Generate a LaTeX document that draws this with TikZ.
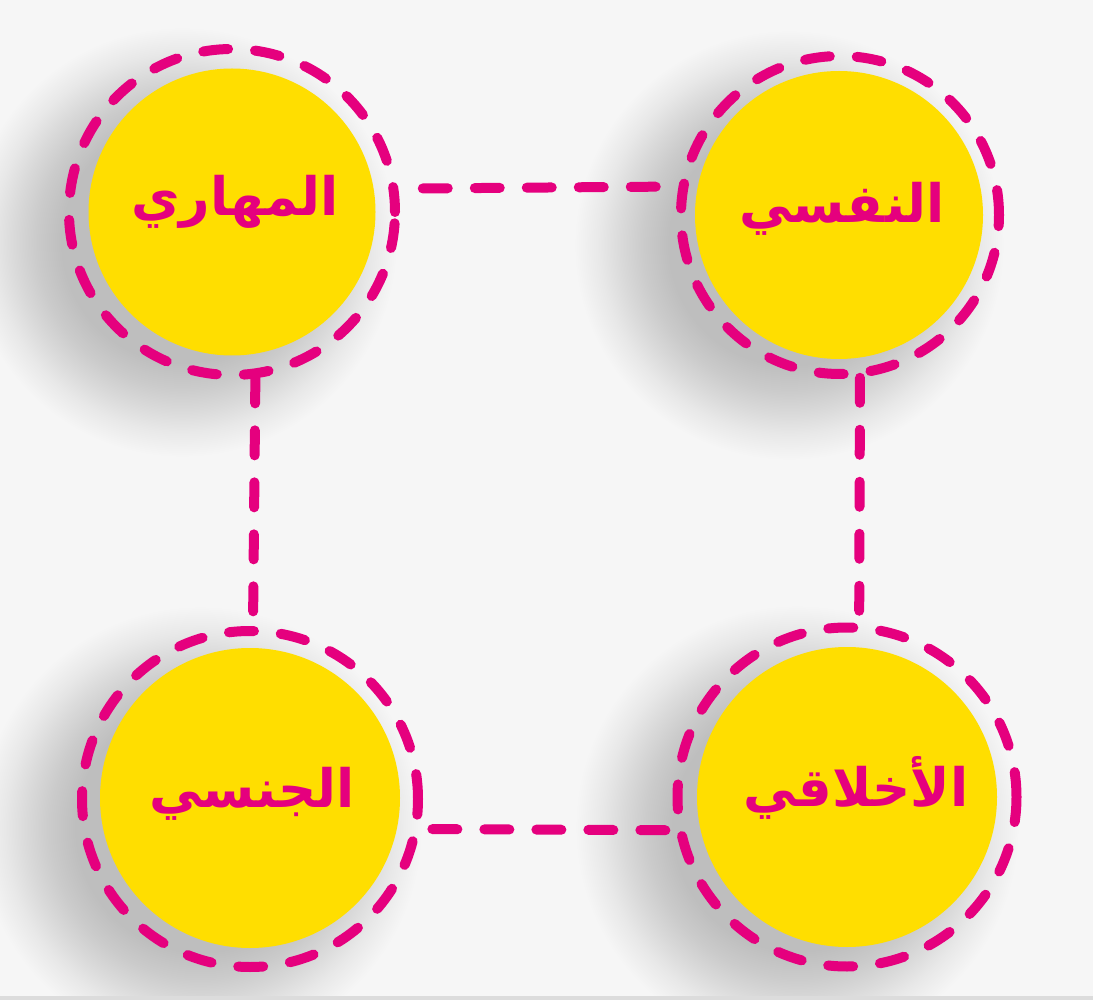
\documentclass[tikz,border=0pt]{standalone}
\usepackage{fontspec}
\TeXXeTstate=1
\newfontfamily\arabicfont[Script=Arabic]{DejaVu Sans}
\definecolor{bgc}{HTML}{F6F6F6}
\definecolor{pinkc}{HTML}{E5007E}
\definecolor{yell}{HTML}{FFDE00}
\definecolor{edgec}{HTML}{DCDCDC}
\definecolor{shc}{HTML}{BEBEBE}
\definecolor{shm}{HTML}{CBCBCB}
\definecolor{shh}{HTML}{D9D9D9}
\definecolor{shl}{HTML}{E8E8E8}
\pgfdeclareradialshading{softshd}{\pgfpoint{0bp}{0bp}}{color(0bp)=(shc); color(14bp)=(shc); color(17bp)=(shm); color(19.5bp)=(shh); color(22bp)=(shl); color(25bp)=(bgc); color(50bp)=(bgc)}
\begin{document}
\begin{tikzpicture}[x=1pt,y=-1pt,
  softshadow/.style={shading=softshd},
  disc/.style={circle, fill=yell, minimum size=#1, inner sep=0pt},
  ring/.style={circle, draw=pinkc, line width=10pt, minimum size=#1, inner sep=0pt,
    dash pattern=on 25pt off 27pt, line cap=round},
  lbl/.style={text=pinkc, anchor=base, inner sep=0pt, font=\arabicfont\bfseries\fontsize{53}{63}\selectfont},
  conn/.style={draw=pinkc, line width=10pt, line cap=round, dash pattern=on 25pt off 27pt}]
\fill[bgc] (0,0) rectangle (1093,1000);
\useasboundingbox (0,0) rectangle (1093,1000);
% shadows
\shade[softshadow] (182,242) circle (215);
\shade[softshadow] (789,245) circle (215);
\shade[softshadow] (200,828) circle (222);
\shade[softshadow] (797,827) circle (222);
\fill[edgec] (0,996) rectangle (1093,1000);
% discs
\node[disc=287pt] (dA) at (232,212) {};
\node[disc=288pt] (dB) at (839,215) {};
\node[disc=300pt] (dC) at (250,798) {};
\node[disc=300pt] (dD) at (847,797) {};
% rings
\node[ring=326pt] (rA) at (232,212) {};
\node[ring=318pt] (rB) at (840,215) {};
\node[ring=336pt] (rC) at (250,799) {};
\node[ring=339pt] (rD) at (847,797) {};
% labels
\node[lbl] (tA) at (235,216) {\beginR المهاري\endR};
\node[lbl] (tB) at (842,223) {\beginR النفسي\endR};
\node[lbl] (tC) at (252,807) {\beginR الجنسي\endR};
\node[lbl] (tD) at (856,806) {\beginR الأخلاقي\endR};
% connectors
\draw[conn, shorten <=24.4pt, shorten >=22pt] (rA.8.6) -- (rB.170.2);
\draw[conn, shorten >=8pt] (rA.-82.8) -- (rC.89);
\draw[conn, shorten >=4pt] (rB.-83.7) -- (rD.86.4);
\draw[conn, shorten <=12pt, shorten >=9pt] (rC.-10.4) -- (rD.191);
\end{tikzpicture}
\end{document}
